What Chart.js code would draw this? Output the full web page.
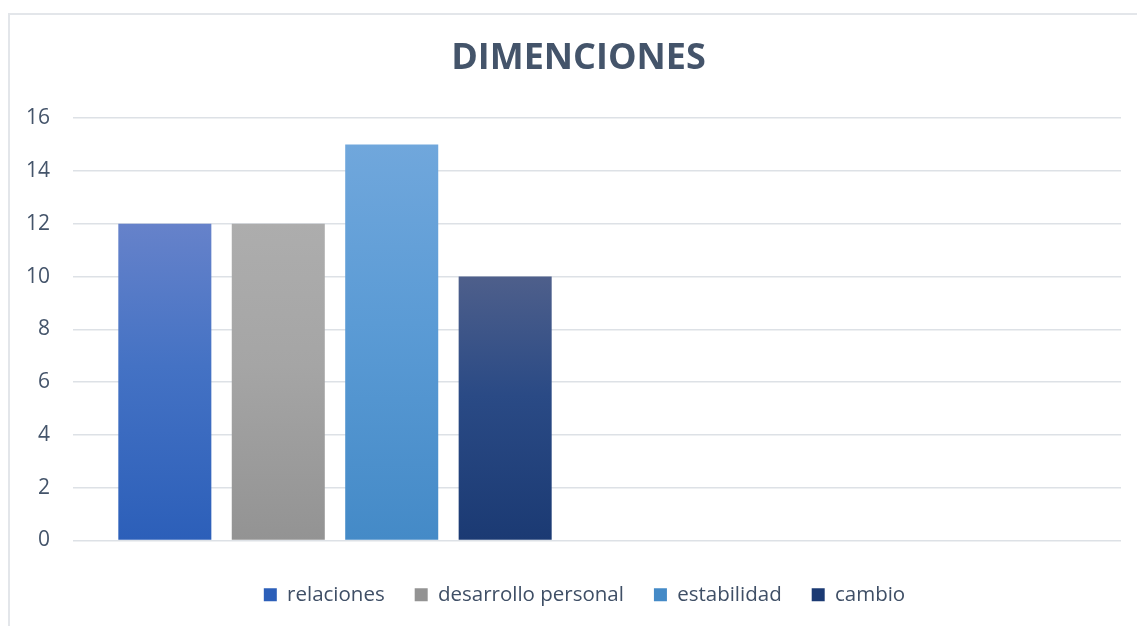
<!DOCTYPE html>
<html>
<head>
  <title>DIMENCIONES</title>
  <script src="https://cdn.jsdelivr.net/npm/chart.js"></script>
  <style>
    html, body { margin: 0; padding: 0; background: #fff; overflow: hidden; }
    #frame {
      position: absolute; left: 8px; top: 13px; width: 1200px; height: 700px;
      border-left: 2px solid #e3e6ea; border-top: 2px solid #e3e6ea;
    }
    #wrap { position: absolute; left: 0; top: 0; width: 1160px; height: 626px; }
  </style>
</head>
<body>
<div id="frame"></div>
<div id="wrap"><canvas id="myChart"></canvas></div>
<script>
  const chartTitle = 'DIMENCIONES';
  const categories = ['', ''];
  const seriesNames = ['relaciones', 'desarrollo personal', 'estabilidad', 'cambio'];
  const relaciones = [12];
  const desarrolloPersonal = [12];
  const estabilidad = [15];
  const cambio = [10];
  const yTicks = [0, 2, 4, 6, 8, 10, 12, 14, 16];

  // top, middle, bottom colour of each bar gradient
  const gradients = [
    ['#6682ca', '#4472c4', '#2c5fb9'],
    ['#adadad', '#a5a5a5', '#939393'],
    ['#70a7dc', '#5b9bd5', '#448ac7'],
    ['#4e5f8b', '#2a4a85', '#1b3a73']
  ];

  function barFill(i) {
    return function(ctx) {
      const c = gradients[i];
      const chart = ctx.chart;
      if (ctx.type !== 'data' || !chart.chartArea) return c[1];
      const y = chart.scales.y;
      const top = y.getPixelForValue(ctx.raw);
      const bottom = y.getPixelForValue(0);
      const g = chart.ctx.createLinearGradient(0, top, 0, bottom);
      g.addColorStop(0, c[0]);
      g.addColorStop(0.45, c[1]);
      g.addColorStop(1, c[2]);
      return g;
    };
  }

  // the original chart is a bit wider than the crop, so title and legend sit right of the plot centre
  const nudge = {
    id: 'nudge',
    afterLayout(chart) {
      const t = chart.titleBlock;
      if (t) { t.left += 6; t.right += 6; }
      const l = chart.legend;
      if (l) { l.left += 12; l.right += 12; }
    }
  };

  const values = [relaciones, desarrolloPersonal, estabilidad, cambio];
  const textColor = '#44546a';

  const ctx = document.getElementById('myChart').getContext('2d');
  new Chart(ctx, {
    type: 'bar',
    data: {
      labels: categories,
      datasets: seriesNames.map((name, i) => ({
        label: name,
        data: values[i],
        backgroundColor: barFill(i),
        borderWidth: 0
      }))
    },
    options: {
      responsive: true,
      maintainAspectRatio: false,
      animation: false,
      categoryPercentage: 0.866,
      barPercentage: 0.82,
      layout: { padding: { left: 24, right: 39, top: 14, bottom: 11 } },
      plugins: {
        title: {
          display: true,
          text: chartTitle,
          color: textColor,
          font: { family: 'Open Sans', size: 36, weight: 'bold' },
          padding: { top: 23, bottom: 38 }
        },
        legend: {
          position: 'bottom',
          labels: {
            color: '#3f4f66',
            font: { family: 'Open Sans', size: 20.5 },
            boxWidth: 13,
            boxHeight: 13,
            padding: 30
          }
        },
        tooltip: { enabled: false }
      },
      scales: {
        x: {
          ticks: { display: false },
          grid: { display: false },
          border: { display: false },
          afterFit: axis => { axis.height = 14; }
        },
        y: {
          min: 0,
          max: 16,
          afterBuildTicks: axis => { axis.ticks = yTicks.map(v => ({ value: v })); },
          afterFit: axis => { axis.width = 49; },
          border: { display: false },
          grid: { color: '#dde1e6', lineWidth: 1.5, drawTicks: false },
          ticks: {
            color: textColor,
            padding: 23,
            font: { family: 'Open Sans', size: 21 }
          }
        }
      }
    },
    plugins: [nudge]
  });
</script>
</body>
</html>
